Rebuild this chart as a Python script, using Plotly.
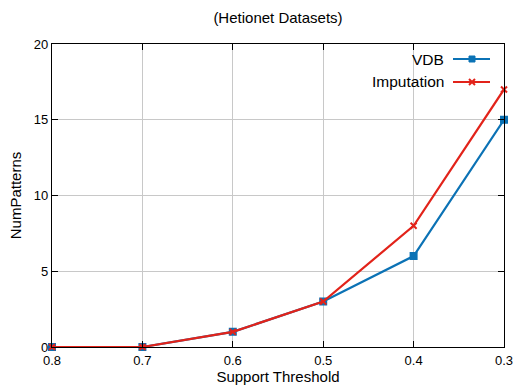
import plotly.graph_objects as go

# Support thresholds (x axis runs from high to low)
support = [0.8, 0.7, 0.6, 0.5, 0.4, 0.3]
vdb_patterns = [0, 0, 1, 3, 6, 15]
imputation_patterns = [0, 0, 1, 3, 8, 17]

series_names = ["VDB", "Imputation"]
series_colors = ["#0b72b5", "#e2231a"]
series_symbols = ["square", "x-thin"]

x_ticks = [0.8, 0.7, 0.6, 0.5, 0.4, 0.3]
x_tick_text = ["0.8", "0.7", "0.6", "0.5", "0.4", "0.3"]
y_ticks = [0, 5, 10, 15, 20]

W, H = 513, 385
L, R, T, B = 52, 9, 44, 38
pw, ph = W - L - R, H - T - B
FONT = "Liberation Sans, Arial"

fig = go.Figure()
for name, ys, col, sym in zip(series_names, [vdb_patterns, imputation_patterns],
                              series_colors, series_symbols):
    fig.add_trace(go.Scatter(
        x=support, y=ys, name=name, mode="lines+markers",
        line=dict(color=col, width=2.2),
        marker=dict(symbol=sym, size=6, color=col,
                    line=dict(color=col, width=2)),
        cliponaxis=False,
    ))

axis_common = dict(
    showgrid=True, gridcolor="#c8c8c8", gridwidth=1,
    showline=True, linecolor="black", linewidth=1.2, mirror="allticks",
    ticks="inside", ticklen=6, tickcolor="black",
    tickfont=dict(family=FONT, size=13, color="black"),
    zeroline=False, automargin=False, ticklabeloverflow="allow",
    title_font=dict(family=FONT, size=15, color="black"),
)

fig.update_layout(
    width=W, height=H,
    margin=dict(l=L, r=R, t=T, b=B),
    plot_bgcolor="white", paper_bgcolor="white",
    showlegend=False,
    xaxis=dict(range=[0.8, 0.3], tickvals=x_ticks, ticktext=x_tick_text,
               ticklabelstandoff=1,
               title=dict(text="Support Threshold", standoff=3), **axis_common),
    yaxis=dict(range=[0, 20], tickvals=y_ticks,
               title=dict(text="NumPatterns", standoff=8), **axis_common),
    title=dict(text="(Hetionet Datasets)", x=0.5, xref="paper", xanchor="center",
               y=1 - 18 / H, yanchor="middle",
               font=dict(family=FONT, size=15, color="black")),
)

# Key in the upper right: label text followed by a line sample
def px_x(px):
    return (px - L) / pw

def px_y(py):
    return (H - B - py) / ph

key_rows = [59, 82]
for name, col, sym, py in zip(series_names, series_colors, series_symbols, key_rows):
    fig.add_annotation(x=px_x(446), y=px_y(py), xref="paper", yref="paper",
                       text=name, showarrow=False, xanchor="right", yanchor="middle",
                       font=dict(family=FONT, size=15.5, color="black"))
    fig.add_shape(type="line", xref="paper", yref="paper",
                  x0=px_x(453), x1=px_x(490), y0=px_y(py), y1=px_y(py),
                  line=dict(color=col, width=2.2))
    cx, cy = 472, py
    if sym == "square":
        fig.add_shape(type="rect", xref="paper", yref="paper",
                      x0=px_x(cx - 3), x1=px_x(cx + 3), y0=px_y(cy + 3), y1=px_y(cy - 3),
                      fillcolor=col, line=dict(color=col, width=1))
    else:
        for dy in (1, -1):
            fig.add_shape(type="line", xref="paper", yref="paper",
                          x0=px_x(cx - 3), x1=px_x(cx + 3),
                          y0=px_y(cy - 3 * dy), y1=px_y(cy + 3 * dy),
                          line=dict(color=col, width=2))

fig.write_html("out.html")
